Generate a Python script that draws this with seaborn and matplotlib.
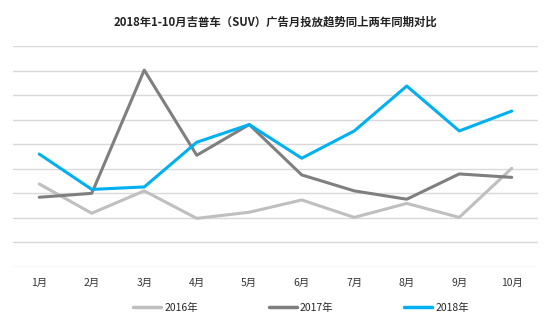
import matplotlib
matplotlib.use("Agg")
import matplotlib.pyplot as plt
import seaborn as sns
import pandas as pd

months = ["1月", "2月", "3月", "4月", "5月", "6月", "7月", "8月", "9月", "10月"]
v2016 = [3.38, 2.19, 3.10, 1.98, 2.23, 2.73, 2.02, 2.59, 2.02, 4.02]
v2017 = [2.84, 3.00, 8.02, 4.55, 5.80, 3.75, 3.10, 2.76, 3.79, 3.65]
v2018 = [4.60, 3.16, 3.26, 5.08, 5.80, 4.43, 5.54, 7.37, 5.54, 6.35]
series = ["2016年", "2017年", "2018年"]
title = "2018年1-10月吉普车（SUV）广告月投放趋势同上两年同期对比"

sns.set_theme(style="white")
plt.rcParams['font.family'] = ['Noto Sans CJK SC', 'DejaVu Sans']

rows = []
for name, vals in zip(series, [v2016, v2017, v2018]):
    for i, (m, v) in enumerate(zip(months, vals)):
        rows.append({"month": m, "idx": i, "value": v, "series": name})
df = pd.DataFrame(rows)

fig = plt.figure(figsize=(5.5, 3.28), dpi=100)
ax = fig.add_axes([13/550, 61/328, 525/550, 221/328])

palette = {"2016年": "#BFBFBF", "2017年": "#7F7F7F", "2018年": "#00B0F0"}
sns.lineplot(data=df, x="idx", y="value", hue="series", palette=palette,
             linewidth=2.2, ax=ax, legend=False, sort=False, zorder=3)

ax.set_xlim(-0.5, 9.5)
ax.set_ylim(0, 9)
ax.set_yticks(range(0, 10))
ax.set_yticklabels([])
ax.tick_params(axis='y', length=0)
ax.set_xticks(range(len(months)))
ax.set_xticklabels(months, fontsize=7.5, color="#333333")
ax.tick_params(axis='x', length=0, pad=8)
ax.grid(axis='y', color="#D9D9D9", linewidth=1)
ax.set_axisbelow(True)
for s in ax.spines.values():
    s.set_visible(False)
ax.set_xlabel("")
ax.set_ylabel("")

fig.text(0.5, 1 - 22/328, title, ha="center", va="center", fontsize=8.2,
         fontweight="bold", color="#222222")

from matplotlib.lines import Line2D
handles = [Line2D([], [], color=palette[s], linewidth=2.5) for s in series]
fig.legend(handles, series, loc="center", bbox_to_anchor=(0.5 + 26/550, 1 - 308/328),
           ncol=3, frameon=False, fontsize=7.5, handlelength=2.7,
           handletextpad=0.3, columnspacing=6.8)

fig.savefig("out.png", dpi=100)
